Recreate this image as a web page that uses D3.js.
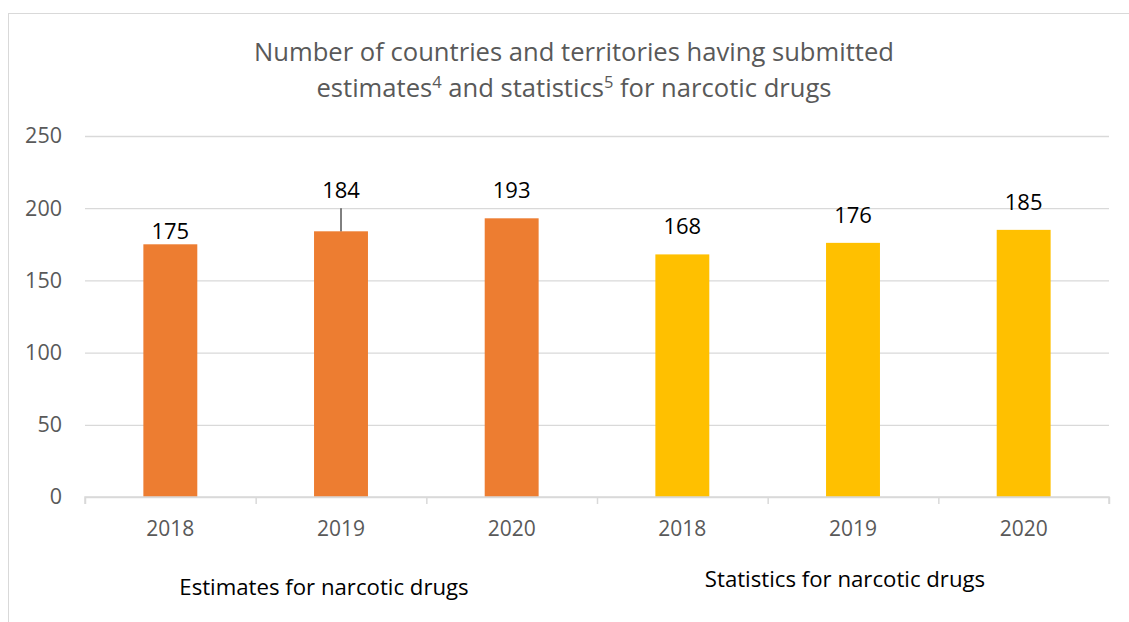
<!DOCTYPE html>
<html>
<head>
<meta charset="utf-8">
<script src="https://cdn.jsdelivr.net/npm/d3@7"></script>
<style>
  html, body { margin: 0; padding: 0; background: #fff; }
  svg { display: block; font-family: "Open Sans", "Liberation Sans", Arial, sans-serif; }
</style>
</head>
<body>
<svg id="chart" width="1129" height="622"></svg>
<script>
// ---- data ----
const groups = ["Estimates for narcotic drugs", "Statistics for narcotic drugs"];
const years = ["2018", "2019", "2020", "2018", "2019", "2020"];
const groupOf = [0, 0, 0, 1, 1, 1];
const values = [175, 184, 193, 168, 176, 185];
const yTicks = [0, 50, 100, 150, 200, 250];

// ---- layout ----
const FONT = "Open Sans, Liberation Sans, Arial, sans-serif";
const svg = d3.select("#chart");
const W = 1129, H = 622;
const plot = { left: 85, right: 1109, top: 136, bottom: 497 };
const colors = ["#ED7D31", "#FFC000"];

// frame
svg.append("rect")
  .attr("x", 8.5).attr("y", 13.5)
  .attr("width", W + 10).attr("height", H + 10)
  .attr("fill", "#fff").attr("stroke", "#d9d9d9").attr("stroke-width", 1);

const idx = d3.range(values.length);
const x = d3.scaleBand().domain(idx).range([plot.left, plot.right])
  .paddingInner(0.684).paddingOuter(0.342);
const xEdge = d3.scaleLinear().domain([0, values.length]).range([plot.left, plot.right]);
const y = d3.scaleLinear().domain([0, 250]).range([plot.bottom, plot.top]);

// y axis + gridlines
const yAxis = svg.append("g")
  .attr("transform", `translate(${plot.left},0)`)
  .call(d3.axisLeft(y).tickValues(yTicks).tickSize(-(plot.right - plot.left)).tickPadding(23));
yAxis.select(".domain").remove();
yAxis.selectAll(".tick line").attr("stroke", "#d9d9d9").attr("stroke-width", 1.3);
yAxis.selectAll(".tick text")
  .attr("fill", "#595959").attr("font-size", "21.5px")
  .attr("font-family", FONT);

// bars
svg.append("g").selectAll("rect").data(idx).join("rect")
  .attr("x", i => x(i))
  .attr("width", x.bandwidth())
  .attr("y", i => y(values[i]))
  .attr("height", i => y(0) - y(values[i]))
  .attr("fill", i => colors[groupOf[i]]);

// x axis (category boundaries)
const xAxis = svg.append("g")
  .attr("transform", `translate(0,${plot.bottom})`)
  .call(d3.axisBottom(xEdge).tickValues(d3.range(values.length + 1)).tickSize(7).tickFormat(""));
xAxis.select(".domain").attr("stroke", "#d9d9d9").attr("stroke-width", 1.5)
  .attr("d", `M${plot.left},7V0H${plot.right}V7`);
xAxis.selectAll(".tick line").attr("stroke", "#d9d9d9").attr("stroke-width", 1.5);

// year labels
svg.append("g").selectAll("text").data(idx).join("text")
  .attr("x", i => x(i) + x.bandwidth() / 2)
  .attr("y", 536)
  .attr("text-anchor", "middle")
  .attr("fill", "#595959").attr("font-size", "21px")
  .text(i => years[i]);

// group labels
const groupLabelPos = [{ dx: -17, y: 595 }, { dx: -8, y: 587 }];
groups.forEach((g, gi) => {
  const gc = (xEdge(gi * 3) + xEdge(gi * 3 + 3)) / 2;
  svg.append("text")
    .attr("x", gc + groupLabelPos[gi].dx)
    .attr("y", groupLabelPos[gi].y)
    .attr("text-anchor", "middle")
    .attr("fill", "#000").attr("font-size", "22.2px")
    .text(g);
});

// value labels (Excel-style: some manually moved)
const labelGap = idx.map(i => i === 0 ? 5 : (i === 1 ? 33 : 20));
svg.append("g").selectAll("text").data(idx).join("text")
  .attr("x", i => x(i) + x.bandwidth() / 2)
  .attr("y", i => y(values[i]) - labelGap[i])
  .attr("text-anchor", "middle")
  .attr("fill", "#000").attr("font-size", "22px")
  .text(i => values[i]);

// leader line for the moved label
svg.append("line")
  .attr("x1", x(1) + x.bandwidth() / 2).attr("x2", x(1) + x.bandwidth() / 2)
  .attr("y1", y(values[1]) - 23).attr("y2", y(values[1]))
  .attr("stroke", "#000").attr("stroke-width", 1);

// title
const title = svg.append("text")
  .attr("text-anchor", "middle")
  .attr("fill", "#595959").attr("font-size", "25.6px");
title.append("tspan").attr("x", 574).attr("y", 61)
  .text("Number of countries and territories having submitted");
const t2 = title.append("tspan").attr("x", 574).attr("y", 97);
t2.append("tspan").text("estimates");
t2.append("tspan").attr("font-size", "16.5px").attr("dy", -9).text("4");
t2.append("tspan").attr("dy", 9).text(" and statistics");
t2.append("tspan").attr("font-size", "16.5px").attr("dy", -9).text("5");
t2.append("tspan").attr("dy", 9).text(" for narcotic drugs");
</script>
</body>
</html>
